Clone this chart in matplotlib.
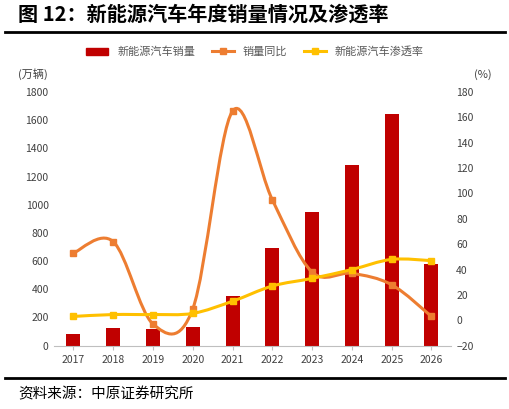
import matplotlib
matplotlib.use("Agg")
import matplotlib.pyplot as plt
from matplotlib.path import Path
from matplotlib.patches import PathPatch
import numpy as np

plt.rcParams['font.family'] = ['Noto Sans CJK SC', 'DejaVu Sans']

years = ['2017','2018','2019','2020','2021','2022','2023','2024','2025','2026']
sales = [80, 125, 120, 135, 350, 690, 945, 1285, 1645, 578]
yoy = [53, 62, -3, 9, 165, 95, 38, 37, 28, 3]
pen = [3, 4.5, 4.5, 5.4, 15, 27, 33, 40, 48, 47]

fig = plt.figure(figsize=(5.10, 4.09), dpi=100)
ax = fig.add_axes([0.105, 0.155, 0.78, 0.62])
ax2 = ax.twinx()
x = np.arange(len(years))

ax.bar(x, sales, width=0.35, color='#C00000', label='新能源汽车销量', zorder=2)
ax.set_ylim(0, 1800)
ax.set_yticks(range(0, 1801, 200))
ax2.set_ylim(-20, 180)
ax2.set_yticks(range(-20, 181, 20))
ax.set_xlim(-0.5, len(years) - 0.5)
ax.set_xticks(x)
ax.set_xticklabels(years)

def smooth(ax_, xs, ys, color):
    xs = np.asarray(xs, float); ys = np.asarray(ys, float)
    verts = [(xs[0], ys[0])]; codes = [Path.MOVETO]
    n = len(xs)
    for i in range(n - 1):
        p0 = np.array([xs[max(i-1, 0)], ys[max(i-1, 0)]])
        p1 = np.array([xs[i], ys[i]]); p2 = np.array([xs[i+1], ys[i+1]])
        p3 = np.array([xs[min(i+2, n-1)], ys[min(i+2, n-1)]])
        c1 = p1 + (p2 - p0) / 6; c2 = p2 - (p3 - p1) / 6
        verts += [tuple(c1), tuple(c2), tuple(p2)]
        codes += [Path.CURVE4] * 3
    ax_.add_patch(PathPatch(Path(verts, codes), fill=False, edgecolor=color, lw=2.2, zorder=3))

smooth(ax2, x, yoy, '#ED7D31')
smooth(ax2, x, pen, '#FFC000')
ax2.plot(x, yoy, 's', color='#ED7D31', ms=5, zorder=4)
ax2.plot(x, pen, 's', color='#FFC000', ms=5, zorder=4)

from matplotlib.lines import Line2D
from matplotlib.patches import Patch
handles = [Patch(color='#C00000'),
           Line2D([], [], color='#ED7D31', lw=2.2, marker='s', ms=5),
           Line2D([], [], color='#FFC000', lw=2.2, marker='s', ms=5)]
fig.legend(handles, ['新能源汽车销量', '销量同比', '新能源汽车渗透率'], loc='center',
           bbox_to_anchor=(0.5, 0.873), ncol=3, frameon=False, fontsize=8,
           handlelength=2, columnspacing=1.5, labelcolor='#595959')

for a in (ax, ax2):
    for s in ['top', 'right', 'left']:
        a.spines[s].set_visible(False)
    a.tick_params(labelsize=7.5, colors='#404040', length=0)
ax.spines['bottom'].set_color('#BFBFBF')
ax2.spines['bottom'].set_visible(False)
ax.tick_params(axis='x', length=3, color='#BFBFBF')

fig.text(0.035, 0.81, '(万辆)', fontsize=8, color='#404040')
fig.text(0.93, 0.81, '(%)', fontsize=8, color='#404040')
fig.text(0.035, 0.965, '图 12：新能源汽车年度销量情况及渗透率', fontsize=14.5, fontweight='bold', va='center')
fig.add_artist(Line2D([0.01, 0.99], [0.922, 0.922], color='black', lw=2))
fig.add_artist(Line2D([0.01, 0.99], [0.076, 0.076], color='black', lw=2))
fig.text(0.035, 0.037, '资料来源：中原证券研究所', fontsize=10.5, va='center')

fig.savefig('out.png', dpi=100)
